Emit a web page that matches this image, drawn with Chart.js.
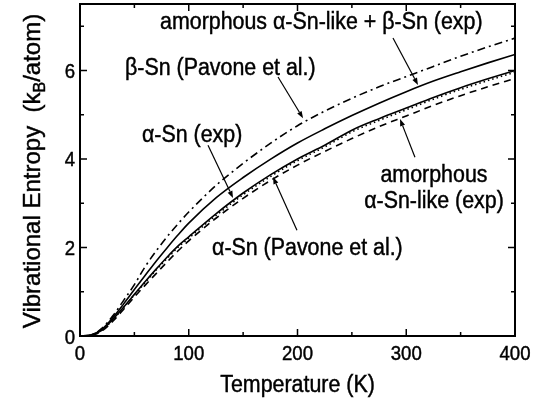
<!DOCTYPE html>
<html>
<head>
<meta charset="utf-8">
<script src="https://cdn.jsdelivr.net/npm/chart.js@4"></script>
<style>
  html, body { margin: 0; padding: 0; background: #fff; }
  canvas { display: block; }
</style>
</head>
<body>
<canvas id="myChart" width="542" height="405"></canvas>
<script>
// temperature grid (K)
const temps = [0, 10, 20, 30, 40, 50, 60, 70, 80, 90, 100, 125, 150, 175, 200, 225, 250, 275, 300, 325, 350, 375, 400];

// vibrational entropy, kB/atom
const betaSnPavone   = [0, 0.02, 0.17, 0.45, 0.80, 1.16, 1.57, 1.92, 2.24, 2.53, 2.80, 3.40, 3.90, 4.35, 4.75, 5.08, 5.37, 5.63, 5.86, 6.09, 6.32, 6.53, 6.73];
const amorphMixExp   = [0, 0.02, 0.15, 0.41, 0.72, 1.05, 1.37, 1.69, 1.99, 2.28, 2.55, 3.12, 3.58, 3.99, 4.36, 4.68, 4.98, 5.26, 5.52, 5.76, 5.97, 6.17, 6.36];
const alphaSnExp     = [0, 0.02, 0.13, 0.37, 0.65, 0.94, 1.23, 1.51, 1.78, 2.03, 2.24, 2.76, 3.23, 3.64, 4.00, 4.31, 4.65, 4.91, 5.15, 5.39, 5.61, 5.81, 6.00];
const alphaSnPavone  = [0, 0.02, 0.13, 0.36, 0.64, 0.93, 1.21, 1.49, 1.75, 2.00, 2.21, 2.72, 3.19, 3.60, 3.96, 4.27, 4.61, 4.87, 5.11, 5.35, 5.57, 5.77, 5.96];
const amorphAlphaExp = [0, 0.01, 0.11, 0.33, 0.60, 0.88, 1.15, 1.41, 1.67, 1.92, 2.15, 2.66, 3.11, 3.51, 3.86, 4.17, 4.46, 4.73, 4.97, 5.21, 5.43, 5.63, 5.82];

// axis ticks
const xMajor = [0, 100, 200, 300, 400];
const xMinor = [50, 150, 250, 350];
const yMajor = [0, 2, 4, 6];
const yMinor = [1, 3, 5, 7];

// curve labels, anchored in data units
const labels = [
  { text: 'amorphous \u03b1-Sn-like + \u03b2-Sn (exp)', x: 73.6, y: 6.93, align: 'left' },
  { text: '\u03b2-Sn (Pavone et al.)', x: 41.4, y: 5.89, align: 'left' },
  { text: '\u03b1-Sn (exp)', x: 57, y: 4.39, align: 'left' },
  { text: 'amorphous', x: 325.5, y: 3.49, align: 'center' },
  { text: '\u03b1-Sn-like (exp)', x: 325.5, y: 2.89, align: 'center' },
  { text: '\u03b1-Sn (Pavone et al.)', x: 121.4, y: 1.83, align: 'left' }
];

// leader arrows: [from, to]
const arrows = [
  [[287.8, 6.73], [310.8, 5.67]],
  [[182.1, 5.85], [205.1, 4.92]],
  [[117.7, 4.31], [140.7, 3.12]],
  [[308.0, 4.04], [294.3, 4.90]],
  [[199.5, 2.39], [177.5, 3.59]]
];

const FONT = '"Liberation Sans", Arial, sans-serif';
const SX = 0.93; // slightly condensed lettering

function pts(vals) {
  return temps.map((t, i) => ({ x: t, y: vals[i] }));
}

function series(label, vals, dash) {
  return {
    label: label,
    data: pts(vals),
    borderColor: '#000',
    borderWidth: 1.6,
    borderDash: dash,
    pointRadius: 0,
    fill: false,
    cubicInterpolationMode: 'monotone'
  };
}

// filled text with a hairline stroke so it reads a little heavier
function ink(ctx, s, x, y) {
  ctx.fillText(s, x, y);
  ctx.strokeText(s, x, y);
}

function txt(ctx, s, x, y, size, align) {
  ctx.save();
  ctx.font = size + 'px ' + FONT;
  ctx.translate(x, y);
  ctx.scale(SX, 1);
  ctx.textAlign = align;
  ctx.textBaseline = 'alphabetic';
  ctx.lineWidth = 0.45;
  ink(ctx, s, 0, 0);
  ctx.restore();
}

const framePlugin = {
  id: 'frame',
  afterDraw(chart) {
    const ctx = chart.ctx;
    const a = chart.chartArea;
    const xs = chart.scales.x, ys = chart.scales.y;
    ctx.save();
    ctx.fillStyle = '#000';
    ctx.strokeStyle = '#000';

    // box
    ctx.lineWidth = 2;
    ctx.strokeRect(a.left, a.top, a.right - a.left, a.bottom - a.top);

    // inward ticks on all four sides
    ctx.lineWidth = 1.5;
    ctx.beginPath();
    const tickX = (vals, len) => {
      vals.forEach(v => {
        const px = xs.getPixelForValue(v);
        ctx.moveTo(px, a.bottom); ctx.lineTo(px, a.bottom - len);
        ctx.moveTo(px, a.top); ctx.lineTo(px, a.top + len);
      });
    };
    const tickY = (vals, len) => {
      vals.forEach(v => {
        const py = ys.getPixelForValue(v);
        ctx.moveTo(a.left, py); ctx.lineTo(a.left + len, py);
        ctx.moveTo(a.right, py); ctx.lineTo(a.right - len, py);
      });
    };
    tickX(xMajor, 7); tickX(xMinor, 4);
    tickY(yMajor, 7); tickY(yMinor, 4);
    ctx.stroke();

    // tick labels
    xMajor.forEach(v => txt(ctx, String(v), xs.getPixelForValue(v), a.bottom + 24, 20, 'center'));
    yMajor.forEach(v => txt(ctx, String(v), a.left - 5, ys.getPixelForValue(v) + 7.5, 20, 'right'));

    // axis titles
    txt(ctx, 'Temperature (K)', (a.left + a.right) / 2, 392, 23, 'center');

    ctx.save();
    ctx.translate(40, 171);
    ctx.rotate(-Math.PI / 2);
    ctx.textBaseline = 'alphabetic';
    ctx.textAlign = 'left';
    ctx.lineWidth = 0.45;
    const p1 = 'Vibrational Entropy  (k', p2 = 'B', p3 = '/atom)';
    ctx.font = '24px ' + FONT;
    const w1 = ctx.measureText(p1).width, w3 = ctx.measureText(p3).width;
    ctx.font = '16px ' + FONT;
    const w2 = ctx.measureText(p2).width;
    const x0 = -(w1 + w2 + w3) / 2;
    ctx.font = '24px ' + FONT;
    ink(ctx, p1, x0, 0);
    ctx.font = '16px ' + FONT;
    ink(ctx, p2, x0 + w1, 5);
    ctx.font = '24px ' + FONT;
    ink(ctx, p3, x0 + w1 + w2, 0);
    ctx.restore();

    // curve labels
    labels.forEach(l => txt(ctx, l.text, xs.getPixelForValue(l.x), ys.getPixelForValue(l.y), 23, l.align));

    // arrows
    ctx.lineWidth = 1.2;
    arrows.forEach(([p, q]) => {
      const x0 = xs.getPixelForValue(p[0]), y0 = ys.getPixelForValue(p[1]);
      const x1 = xs.getPixelForValue(q[0]), y1 = ys.getPixelForValue(q[1]);
      const ang = Math.atan2(y1 - y0, x1 - x0);
      const hl = 7, hw = 2.6;
      ctx.beginPath();
      ctx.moveTo(x0, y0);
      ctx.lineTo(x1 - hl * Math.cos(ang), y1 - hl * Math.sin(ang));
      ctx.stroke();
      ctx.beginPath();
      ctx.moveTo(x1, y1);
      ctx.lineTo(x1 - hl * Math.cos(ang) + hw * Math.sin(ang), y1 - hl * Math.sin(ang) - hw * Math.cos(ang));
      ctx.lineTo(x1 - hl * Math.cos(ang) - hw * Math.sin(ang), y1 - hl * Math.sin(ang) + hw * Math.cos(ang));
      ctx.closePath();
      ctx.fill();
    });
    ctx.restore();
  }
};

const ctx = document.getElementById('myChart').getContext('2d');
new Chart(ctx, {
  type: 'line',
  data: {
    datasets: [
      series('\u03b2-Sn (Pavone et al.)', betaSnPavone, [8, 4, 2, 4]),
      series('amorphous \u03b1-Sn-like + \u03b2-Sn (exp)', amorphMixExp, []),
      series('\u03b1-Sn (exp)', alphaSnExp, []),
      series('\u03b1-Sn (Pavone et al.)', alphaSnPavone, [1.5, 3]),
      series('amorphous \u03b1-Sn-like (exp)', amorphAlphaExp, [7, 5])
    ]
  },
  options: {
    responsive: false,
    animation: false,
    layout: { padding: { left: 80, right: 27, top: 4, bottom: 69 } },
    scales: {
      x: { type: 'linear', min: 0, max: 400, display: false },
      y: { type: 'linear', min: 0, max: 7.5, display: false }
    },
    plugins: {
      legend: { display: false },
      tooltip: { enabled: false }
    }
  },
  plugins: [framePlugin]
});
</script>
</body>
</html>
